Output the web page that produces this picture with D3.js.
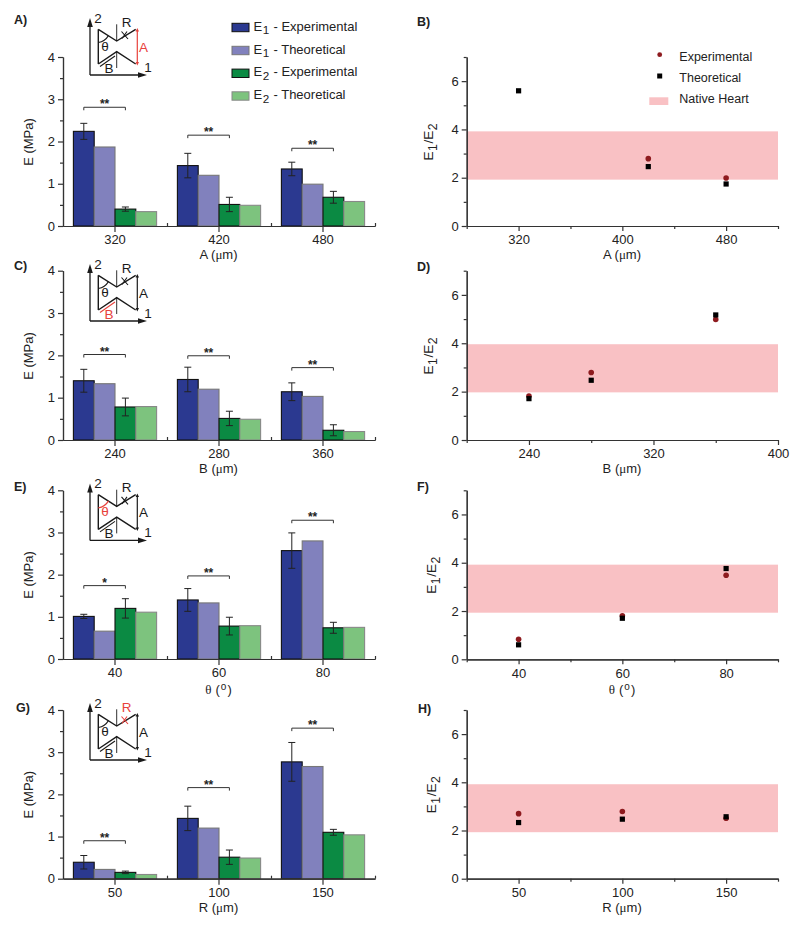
<!DOCTYPE html>
<html>
<head>
<meta charset="utf-8">
<script src="https://cdn.jsdelivr.net/npm/d3@7"></script>
<style>
body{margin:0;background:#fff;}
text{font-family:"Liberation Sans",Arial,sans-serif;fill:#222;}
.tick text{font-size:13px;font-family:"Liberation Sans",Arial,sans-serif;fill:#222;}
.domain,.tick line{stroke:#333;stroke-width:1.2;}
</style>
</head>
<body>
<svg id="chart" width="800" height="929"></svg>
<script>
// legend / series
const seriesNames = ["E1 - Experimental","E1 - Theoretical","E2 - Experimental","E2 - Theoretical"];
const seriesColors = ["#2b3990","#8181bd","#0b8a43","#7dc37e"];
const seriesEdges = ["#111","#777","#111","#888"];

// left column: moduli, one row per group in series order
const catsA = ["320","420","480"];
const barsA = [[2.24,1.87,0.40,0.34],[1.43,1.20,0.51,0.49],[1.35,0.99,0.68,0.58]];
const errsA = [[0.19,0.05],[0.29,0.17],[0.16,0.14]];
const brackA = [2.81,2.15,1.84];
const starsA = ["**","**","**"];

const catsC = ["240","280","360"];
const barsC = [[1.40,1.33,0.78,0.79],[1.43,1.20,0.51,0.49],[1.14,1.03,0.23,0.20]];
const errsC = [[0.27,0.21],[0.29,0.17],[0.21,0.13]];
const brackC = [2.02,1.99,1.71];
const starsC = ["**","**","**"];

const catsE = ["40","60","80"];
const barsE = [[1.01,0.66,1.20,1.11],[1.40,1.33,0.78,0.79],[2.57,2.80,0.74,0.75]];
const errsE = [[0.05,0.23],[0.27,0.21],[0.42,0.13]];
const brackE = [1.74,1.97,3.29];
const starsE = ["*","**","**"];

const catsG = ["50","100","150"];
const barsG = [[0.39,0.22,0.15,0.10],[1.43,1.20,0.51,0.49],[2.77,2.66,1.10,1.04]];
const errsG = [[0.16,0.03],[0.29,0.17],[0.46,0.07]];
const brackG = [0.90,2.16,3.57];
const starsG = ["**","**","**"];

// right column: ratio E1/E2
const ratioXB = [320,420,480];
const ratioExpB = [null,2.79,1.99];
const ratioThB = [5.60,2.46,1.74];
const bandB = [1.92,3.92];

const ratioXD = [240,280,360];
const ratioExpD = [1.82,2.79,4.98];
const ratioThD = [1.71,2.47,5.17];
const bandD = [1.97,3.96];

const ratioXF = [40,60,80];
const ratioExpF = [0.83,1.80,3.48];
const ratioThF = [0.60,1.70,3.76];
const bandF = [1.93,3.92];

const ratioXH = [50,100,150];
const ratioExpH = [2.70,2.79,2.51];
const ratioThH = [2.33,2.47,2.57];
const bandH = [1.93,3.92];

const svg = d3.select("#chart");
const leftX = [63,375], rightX = [466.7,778];
const colorExp = "#8e1b1f", colorTh = "#000", colorBand = "#f9c1c4";

function subText(sel,parts,size){
    // parts: [text, isSub, backToBaseline]
    parts.forEach(function(p){
	sel.append("tspan")
	    .attr("font-size",p[1] ? size*0.9 : size)
	    .attr("dy",p[1] ? size*0.3 : (p[2] ? -size*0.3 : 0))
	    .attr("dx",p[1] || p[2] ? 0.6 : 0)
	    .text(p[0]);
    });
}

function unitLabel(g,x,y,name){
    // axis titles under the panels
    var t = g.append("text").attr("x",x).attr("text-anchor","middle").attr("font-size",13);
    if(name == "theta"){
	t.attr("y",y+1.5);
	t.append("tspan").attr("font-family","Liberation Serif").text("\u03b8");
	t.append("tspan").attr("dx",4).text("(");
	t.append("tspan").attr("dx",1).attr("dy",-4).attr("font-size",10).text("o");
	t.append("tspan").attr("dx",1).attr("dy",4).text(")");
    }
    else{
	t.attr("y",y);
	t.append("tspan").text(name+" (");
	t.append("tspan").attr("font-family","Liberation Serif").text("\u03bc");
	t.append("tspan").text("m)");
    }
}

function yAxes(g,y,xPos,major,minor){
    g.append("g").attr("transform","translate("+xPos+",0)")
	.call(d3.axisLeft(y).tickValues(minor).tickSize(3).tickFormat("").tickSizeOuter(0));
    g.append("g").attr("transform","translate("+xPos+",0)")
	.call(d3.axisLeft(y).tickValues(major).tickSize(5).tickPadding(3).tickFormat(d3.format("d")).tickSizeOuter(0));
}

function barPanel(opt){
    var g = svg.append("g");
    var y = d3.scaleLinear().domain([0,4]).range([opt.zero,opt.top]);
    var x0 = d3.scaleBand().domain(opt.cats).range(leftX);
    var x1 = d3.scaleBand().domain(seriesNames).range([0,x0.bandwidth()]).paddingOuter(0.5).paddingInner(0);
    var edge = d3.scaleLinear().domain([0,3]).range(leftX);

    opt.bars.forEach(function(row,i){
	var gr = g.append("g").attr("transform","translate("+x0(opt.cats[i])+",0)");
	gr.selectAll("rect").data(row).enter().append("rect")
	    .attr("x",function(d,j){ return x1(seriesNames[j]); })
	    .attr("y",function(d){ return y(d); })
	    .attr("width",x1.bandwidth())
	    .attr("height",function(d){ return y(0)-y(d); })
	    .attr("fill",function(d,j){ return seriesColors[j]; })
	    .attr("stroke",function(d,j){ return seriesEdges[j]; })
	    .attr("stroke-width",1.1);
	// error bars only on the experimental bars
	[0,2].forEach(function(j,k){
	    var cx = x1(seriesNames[j])+x1.bandwidth()/2;
	    var v = row[j], e = opt.errs[i][k];
	    var p = d3.path();
	    p.moveTo(cx,y(v+e)); p.lineTo(cx,y(v-e));
	    p.moveTo(cx-3.5,y(v+e)); p.lineTo(cx+3.5,y(v+e));
	    p.moveTo(cx-3.5,y(v-e)); p.lineTo(cx+3.5,y(v-e));
	    gr.append("path").attr("d",p.toString()).attr("fill","none").attr("stroke","#222").attr("stroke-width",1);
	});
	// significance bracket from the E1 to the E2 experimental bar
	var bx1 = x1(seriesNames[0])+x1.bandwidth()/2, bx2 = x1(seriesNames[2])+x1.bandwidth()/2, by = y(opt.brack[i]);
	gr.append("path").attr("d","M"+bx1+" "+(by+3)+"V"+by+"H"+bx2+"V"+(by+3))
	    .attr("fill","none").attr("stroke","#333").attr("stroke-width",1);
	gr.append("text").attr("x",(bx1+bx2)/2).attr("y",by+1).attr("text-anchor","middle")
	    .attr("font-size",12).attr("font-weight","bold").text(opt.stars[i]);
    });

    yAxes(g,y,leftX[0],[0,1,2,3,4],[0.5,1.5,2.5,3.5]);
    g.append("g").attr("transform","translate(0,"+opt.zero+")")
	.call(d3.axisBottom(edge).tickValues([1,2,3]).tickSize(-3).tickFormat("").tickSizeOuter(0));
    g.append("g").attr("transform","translate(0,"+opt.zero+")")
	.call(d3.axisBottom(x0).tickSize(6).tickPadding(3).tickSizeOuter(0));

    g.append("text").attr("transform","translate(33,"+(opt.zero-84)+") rotate(-90)")
	.attr("text-anchor","middle").attr("font-size",13).text("E (MPa)");
    unitLabel(g,218.5,opt.zero+33,opt.unit);
}

function ratioPanel(opt){
    var g = svg.append("g");
    var y = d3.scaleLinear().domain([0,7]).range([opt.zero,opt.top]);
    var x = d3.scaleLinear().domain(opt.xDomain).range(rightX);

    g.append("rect").attr("x",rightX[0]).attr("width",rightX[1]-rightX[0])
	.attr("y",y(opt.band[1])).attr("height",y(opt.band[0])-y(opt.band[1]))
	.attr("fill",colorBand);

    var expPts = opt.xs.map(function(d,i){ return {x:d,v:opt.exp[i]}; }).filter(function(d){ return d.v !== null; });
    var thPts = opt.xs.map(function(d,i){ return {x:d,v:opt.th[i]}; });
    g.selectAll("circle").data(expPts).enter().append("circle")
	.attr("cx",function(d){ return x(d.x); }).attr("cy",function(d){ return y(d.v); })
	.attr("r",2.8).attr("fill",colorExp);
    g.selectAll("rect.pt").data(thPts).enter().append("rect").attr("class","pt")
	.attr("x",function(d){ return x(d.x)-2.6; }).attr("y",function(d){ return y(d.v)-2.6; })
	.attr("width",5.2).attr("height",5.2).attr("fill",colorTh);

    yAxes(g,y,rightX[0],[0,2,4,6],[1,3,5,7]);
    g.append("g").attr("transform","translate(0,"+opt.zero+")")
	.call(d3.axisBottom(x).tickValues(opt.minor).tickSize(3).tickFormat("").tickSizeOuter(0));
    g.append("g").attr("transform","translate(0,"+opt.zero+")")
	.call(d3.axisBottom(x).tickValues(opt.major).tickSize(5).tickPadding(4).tickFormat(d3.format("d")).tickSizeOuter(0));

    var yl = g.append("text").attr("transform","translate("+opt.ylX+","+(opt.zero-84)+") rotate(-90)")
	.attr("text-anchor","middle").attr("font-size",13.5);
    subText(yl,[["E",0],["1",1],["/E",0,1],["2",1]],13.5);
    unitLabel(g,622,opt.zero+33,opt.unit);
}

// small cell sketch above each bar panel, part names the highlighted dimension
function inset(dy,hot){
    var g = svg.append("g").attr("transform","translate(0,"+dy+")");
    var red = "#e8413c", ink = "#1a1a1a";
    function c(name){ return hot == name ? red : ink; }
    function line(d,col,w){ g.append("path").attr("d",d).attr("fill","none").attr("stroke",col).attr("stroke-width",w); }
    // axes
    line("M90 75V24",ink,1.3);
    line("M90 75H142",ink,1.3);
    g.append("path").attr("d","M90 18L87.2 27H92.8Z").attr("fill",ink);
    g.append("path").attr("d","M147 75L138 72.2V77.8Z").attr("fill",ink);
    // cell outline
    line("M98.3 29.3L116.7 41L135.7 29.3",ink,1.4);
    line("M98.3 64L116.7 51.7L135.7 64",ink,1.4);
    line("M98.3 29.3V64",ink,1.4);
    line("M116.7 24.3V41M116.7 51.7V68",ink,0.9);
    // A, dimension line with small heads
    line("M137.3 30V63.5",c("A"),1.2);
    g.append("path").attr("d","M137.3 28L135.6 31.5H139Z M137.3 65.5L135.6 62H139Z").attr("fill",c("A"));
    // B
    line("M100 66.5L115 56",c("B"),1.1);
    // R
    line("M121.5 31.5L128 39M127 31.5L122 38.5",c("R"),1.1);
    // theta arc
    line("M98.3 42.5Q105 41.5 108.5 35.5",c("theta"),1.2);
    function lab(x,y,s,col,fam){
	g.append("text").attr("x",x).attr("y",y).attr("text-anchor","middle").attr("font-size",13.5)
	    .attr("font-family",fam || "Liberation Sans").style("fill",col).text(s);
    }
    lab(98,23,"2",ink);
    lab(148,72,"1",ink);
    lab(126.7,26.5,"R",c("R"));
    lab(143.5,51.5,"A",c("A"));
    lab(109,72.5,"B",c("B"));
    lab(105,51,"\u03b8",c("theta"),"Liberation Serif");
}

barPanel({cats:catsA,bars:barsA,errs:errsA,brack:brackA,stars:starsA,top:57,zero:226,unit:"A"});
barPanel({cats:catsC,bars:barsC,errs:errsC,brack:brackC,stars:starsC,top:270.7,zero:440,unit:"B"});
barPanel({cats:catsE,bars:barsE,errs:errsE,brack:brackE,stars:starsE,top:490.3,zero:659,unit:"theta"});
barPanel({cats:catsG,bars:barsG,errs:errsG,brack:brackG,stars:starsG,top:710,zero:878.7,unit:"R"});

ratioPanel({xs:ratioXB,exp:ratioExpB,th:ratioThB,band:bandB,top:57,zero:226,xDomain:[280,520],major:[320,400,480],minor:[280,360,440,520],ylX:433,unit:"A"});
ratioPanel({xs:ratioXD,exp:ratioExpD,th:ratioThD,band:bandD,top:270.7,zero:440,xDomain:[200,400],major:[240,320,400],minor:[200,280,360],ylX:433,unit:"B"});
ratioPanel({xs:ratioXF,exp:ratioExpF,th:ratioThF,band:bandF,top:490.3,zero:659.3,xDomain:[30,90],major:[40,60,80],minor:[30,50,70,90],ylX:436,unit:"theta"});
ratioPanel({xs:ratioXH,exp:ratioExpH,th:ratioThH,band:bandH,top:710,zero:878.7,xDomain:[25,175],major:[50,100,150],minor:[25,75,125,175],ylX:436,unit:"R"});

inset(0,"A");
inset(246,"B");
inset(465.4,"theta");
inset(685,"R");

// panel letters
[["A)",14,24],["C)",14,270],["E)",14,490.7],["G)",16,712],["B)",417,25.7],["D)",417,270.7],["F)",417,490.7],["H)",418,713]].forEach(function(d){
    svg.append("text").attr("x",d[1]).attr("y",d[2]).attr("font-size",12.5).attr("font-weight","bold").text(d[0]);
});

// bar legend
var legRows = [27.5,50.5,73.3,96];
seriesNames.forEach(function(name,i){
    svg.append("rect").attr("x",232).attr("y",legRows[i]-4.2).attr("width",17).attr("height",8.4)
	.attr("fill",seriesColors[i]).attr("stroke",seriesEdges[i]).attr("stroke-width",1);
    var t = svg.append("text").attr("x",253.5).attr("y",legRows[i]+3).attr("font-size",13);
    subText(t,[["E",0],[name.charAt(1),1],[name.slice(2),0,1]],13);
});

// ratio legend
svg.append("circle").attr("cx",659.7).attr("cy",54.7).attr("r",2.4).attr("fill",colorExp);
svg.append("rect").attr("x",657.2).attr("y",73.5).attr("width",5).attr("height",5).attr("fill",colorTh);
svg.append("rect").attr("x",649.3).attr("y",97.3).attr("width",19).attr("height",7.7).attr("fill",colorBand);
[["Experimental",60.5],["Theoretical",81.5],["Native Heart",103]].forEach(function(d){
    svg.append("text").attr("x",679.3).attr("y",d[1]).attr("font-size",12.5).text(d[0]);
});
</script>
</body>
</html>
